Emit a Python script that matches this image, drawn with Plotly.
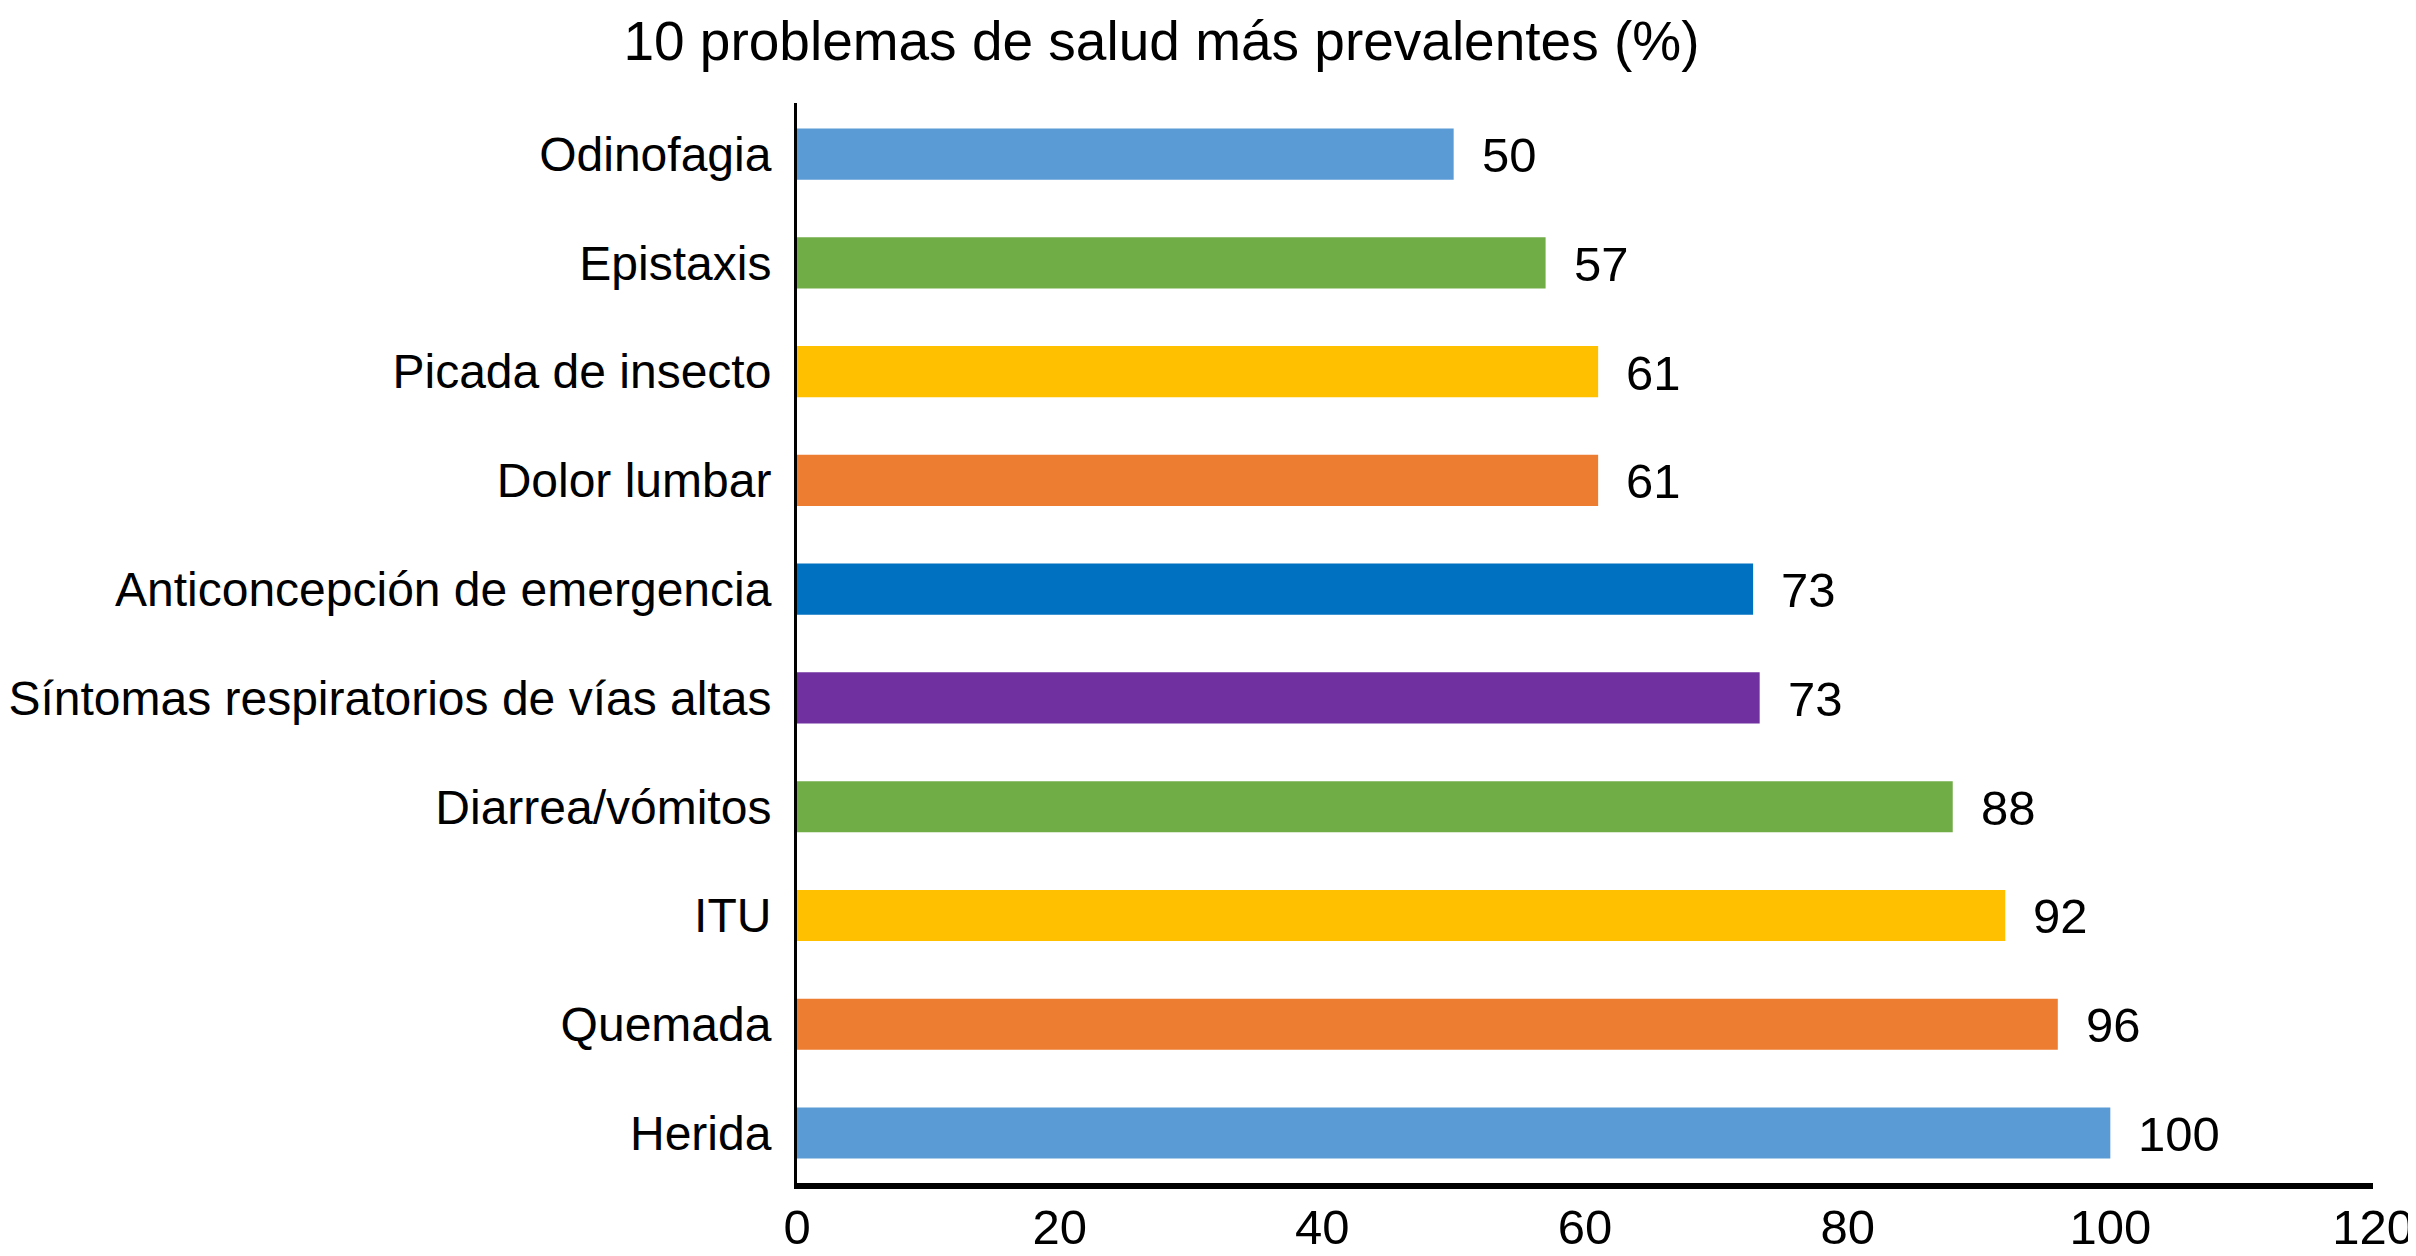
import plotly.graph_objects as go

# categories top to bottom as in the picture
categorias = ["Odinofagia", "Epistaxis", "Picada de insecto", "Dolor lumbar",
              "Anticoncepción de emergencia", "Síntomas respiratorios de vías altas",
              "Diarrea/vómitos", "ITU", "Quemada", "Herida"]
valores = [50, 57, 61, 61, 72.8, 73.3, 88, 92, 96, 100]
etiquetas = ["50", "57", "61", "61", "73", "73", "88", "92", "96", "100"]
colores = ["#5B9BD5", "#70AD47", "#FFC000", "#ED7D31", "#0070C0",
           "#7030A0", "#70AD47", "#FFC000", "#ED7D31", "#5B9BD5"]
ticks_x = [0, 20, 40, 60, 80, 100, 120]

FONT = "Liberation Sans, Arial, Helvetica, sans-serif"

fig = go.Figure()
fig.add_trace(go.Bar(
    x=valores, y=categorias, orientation="h",
    marker=dict(color=colores, line=dict(width=0)),
    width=0.47, hoverinfo="skip",
))

# value labels to the right of each bar
for cat, val, lab in zip(categorias, valores, etiquetas):
    fig.add_annotation(x=val, y=cat, text=lab, showarrow=False,
                       xanchor="left", yanchor="middle", xshift=26, yshift=-1,
                       font=dict(size=49, color="black", family=FONT))

# page body has an 8px margin, so the figure is 8px smaller than the window
fig.update_layout(
    template="none",
    width=2408, height=1248,
    margin=dict(l=789, r=43, t=95, b=73, autoexpand=False),
    paper_bgcolor="white", plot_bgcolor="white",
    showlegend=False,
    font=dict(family=FONT, size=49, color="black"),
    title=dict(text="10 problemas de salud más prevalentes (%)",
               x=0.479, xanchor="center", y=0.974, yanchor="middle",
               font=dict(size=55, color="black", family=FONT)),
)
fig.update_xaxes(range=[0, 120], tickvals=ticks_x, showgrid=False, zeroline=False,
                 showline=True, linecolor="black", linewidth=6,
                 ticks="", ticklen=0, ticklabelstandoff=-4, automargin=False,
                 tickfont=dict(size=49, color="black"))
fig.update_yaxes(categoryorder="array", categoryarray=categorias,
                 range=[9.46, -0.47], showgrid=False, zeroline=False,
                 showline=True, linecolor="black", linewidth=3,
                 ticks="", ticklabelstandoff=13, automargin=False,
                 tickfont=dict(size=48, color="black"))

fig.write_html("out.html")
